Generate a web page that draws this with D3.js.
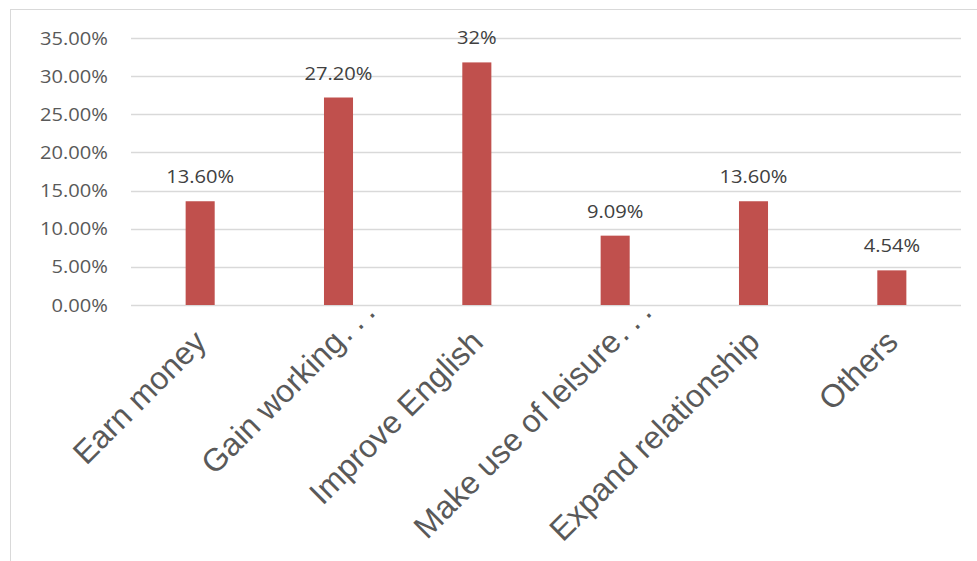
<!DOCTYPE html>
<html>
<head>
<meta charset="utf-8">
<script src="https://cdn.jsdelivr.net/npm/d3@7"></script>
<style>
  html, body { margin: 0; padding: 0; background: #fff; }
</style>
</head>
<body>
<div id="chart"></div>
<script>
const categories = ["Earn money", "Gain working…", "Improve English", "Make use of leisure…", "Expand relationship", "Others"];
const values = [13.6, 27.2, 31.8, 9.09, 13.6, 4.54];
const valueLabels = ["13.60%", "27.20%", "32%", "9.09%", "13.60%", "4.54%"];
const yTicks = [0, 5, 10, 15, 20, 25, 30, 35];

const width = 977, height = 561;
const margin = {top: 38, right: 16, bottom: 256, left: 131};
const stretch = 1.15; // number labels look a bit wide

const svg = d3.select("#chart")
  .append("svg")
  .attr("width", width)
  .attr("height", height);

// chart frame
svg.append("rect")
  .attr("x", 10.5).attr("y", 9.5)
  .attr("width", 1000).attr("height", 600)
  .attr("fill", "none")
  .attr("stroke", "#d9d9d9");

const x = d3.scaleBand()
  .domain(categories)
  .range([margin.left, width - margin.right])
  .paddingInner(0.79)
  .paddingOuter(0.395);

const y = d3.scaleLinear()
  .domain([0, 35])
  .range([height - margin.bottom, margin.top]);

// gridlines
svg.append("g")
  .selectAll("line")
  .data(yTicks)
  .join("line")
  .attr("x1", margin.left)
  .attr("x2", width - margin.right)
  .attr("y1", d => Math.round(y(d)) + 0.5)
  .attr("y2", d => Math.round(y(d)) + 0.5)
  .attr("stroke", "#d9d9d9")
  .attr("stroke-width", 1.3);

// y tick labels
svg.append("g")
  .selectAll("text")
  .data(yTicks)
  .join("text")
  .attr("transform", d => `translate(108,${y(d) + 6.5}) scale(${stretch},1)`)
  .attr("text-anchor", "end")
  .attr("font-family", "Open Sans, sans-serif")
  .attr("font-size", 17.5)
  .attr("fill", "#595959")
  .text(d => d.toFixed(2) + "%");

// bars
svg.append("g")
  .selectAll("rect")
  .data(values)
  .join("rect")
  .attr("x", (d, i) => x(categories[i]))
  .attr("y", d => y(d))
  .attr("width", x.bandwidth())
  .attr("height", d => y(0) - y(d))
  .attr("fill", "#c0504d");

// value labels
svg.append("g")
  .selectAll("text")
  .data(values)
  .join("text")
  .attr("transform", (d, i) => `translate(${x(categories[i]) + x.bandwidth() / 2},${y(d) - 18}) scale(${stretch},1)`)
  .attr("text-anchor", "middle")
  .attr("font-family", "Open Sans, sans-serif")
  .attr("font-size", 17.5)
  .attr("fill", "#404040")
  .text((d, i) => valueLabels[i]);

// category labels, rotated -45; the words end at the anchor and any
// trailing dots run on past it, spaced out like in the original
const catLabels = svg.append("g")
  .attr("font-family", "Liberation Sans, Arial, sans-serif")
  .attr("font-size", 32)
  .attr("fill", "#595959")
  .selectAll("text")
  .data(categories)
  .join("text")
  .attr("transform", d => `translate(${x(d) + x.bandwidth() / 2 + 8},344) rotate(-45)`)
  .attr("text-anchor", "start");

catLabels.each(function(d) {
  const t = d3.select(this);
  const main = t.append("tspan").text(d.replace(/…$/, ""));
  const len = main.node().getComputedTextLength();
  main.attr("x", -len);
  if (d.endsWith("…")) {
    t.append("tspan").attr("dx", "2 7 7").text("...");
  }
});
</script>
</body>
</html>
